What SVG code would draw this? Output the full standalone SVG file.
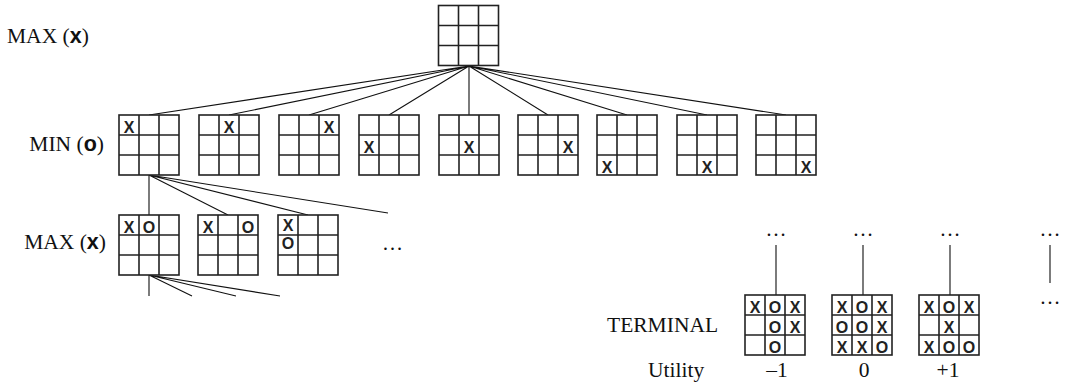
<svg xmlns="http://www.w3.org/2000/svg" xmlns:xlink="http://www.w3.org/1999/xlink" width="1065" height="391" viewBox="0 0 1065 391">
<style>
.lbl{font-family:"Liberation Serif","Times New Roman",serif;font-size:21.5px;fill:#111}
.m{font-family:"Liberation Sans",Arial,sans-serif;font-weight:bold}
.mk{font-family:"Liberation Sans",Arial,sans-serif;font-weight:bold;font-size:16px;fill:#222;text-anchor:middle}
.dots{font-family:"Liberation Serif","Times New Roman",serif;font-size:21px;fill:#111}
.edge{stroke:#111;stroke-width:1.1;fill:none}
.bd{stroke:#222;stroke-width:1.6;fill:#fff}
</style>
<defs>
<g id="board">
<rect class="bd" x="0" y="0" width="60" height="60"/>
<path class="bd" d="M20 0V60M40 0V60M0 20H60M0 40H60"/>
</g>
</defs>
<rect width="1065" height="391" fill="#fff"/>
<g id="connectors">
<path class="edge" d="M469 66L149 115M469 66L229 115M469 66L309 115M469 66L389 115M469 66L469 115M469 66L548 115M469 66L627 115M469 66L707 115M469 66L786 115"/>
<path class="edge" d="M149 175L149 215M149 175L228 215M149 175L308 215M149 175L388 213"/>
<path class="edge" d="M149 275L149 296M149 275L192 296M149 275L236 296M149 275L280 296"/>
<path class="edge" d="M776 245L776 295M863 245L863 295M950 245L950 295M1050 245L1050 283"/>
</g>
<g id="labels">
<text class="lbl" x="7" y="43">MAX (<tspan class="m">x</tspan>)</text>
<text class="lbl" x="104" y="151" text-anchor="end">MIN (<tspan class="m">o</tspan>)</text>
<text class="lbl" x="106" y="249" text-anchor="end">MAX (<tspan class="m">x</tspan>)</text>
<text class="lbl" x="607" y="332">TERMINAL</text>
<text class="lbl" x="648" y="377">Utility</text>
<text class="lbl" x="777" y="377" text-anchor="middle">–1</text>
<text class="lbl" x="864" y="377" text-anchor="middle">0</text>
<text class="lbl" x="948" y="377" text-anchor="middle">+1</text>
</g>
<g id="n0"><use xlink:href="#board" x="438.5" y="5.5"/></g>
<g id="n1"><use xlink:href="#board" x="119" y="115"/><text class="mk" x="129" y="133">X</text></g>
<g id="n2"><use xlink:href="#board" x="199" y="115"/><text class="mk" x="229" y="133">X</text></g>
<g id="n3"><use xlink:href="#board" x="279" y="115"/><text class="mk" x="329" y="133">X</text></g>
<g id="n4"><use xlink:href="#board" x="359" y="115"/><text class="mk" x="369" y="153">X</text></g>
<g id="n5"><use xlink:href="#board" x="439" y="115"/><text class="mk" x="469" y="153">X</text></g>
<g id="n6"><use xlink:href="#board" x="518" y="115"/><text class="mk" x="568" y="153">X</text></g>
<g id="n7"><use xlink:href="#board" x="597" y="115"/><text class="mk" x="607" y="173">X</text></g>
<g id="n8"><use xlink:href="#board" x="677" y="115"/><text class="mk" x="707" y="173">X</text></g>
<g id="n9"><use xlink:href="#board" x="756" y="115"/><text class="mk" x="806" y="173">X</text></g>
<g id="n10"><use xlink:href="#board" x="119" y="215"/><text class="mk" x="129" y="233">X</text><text class="mk" x="149" y="233">O</text></g>
<g id="n11"><use xlink:href="#board" x="198" y="215"/><text class="mk" x="208" y="233">X</text><text class="mk" x="248" y="233">O</text></g>
<g id="n12"><use xlink:href="#board" x="278" y="215"/><text class="mk" x="288" y="231">X</text><text class="mk" x="288" y="249">O</text></g>
<g id="more1"><text class="dots" x="382" y="250">…</text></g>
<g id="dots-top"><text class="dots" x="776" y="236" text-anchor="middle">…</text><text class="dots" x="863" y="236" text-anchor="middle">…</text><text class="dots" x="950" y="236" text-anchor="middle">…</text><text class="dots" x="1050" y="236" text-anchor="middle">…</text><text class="dots" x="1050" y="304" text-anchor="middle">…</text></g>
<g id="t1"><use xlink:href="#board" x="745" y="295"/>
<text class="mk" x="755" y="313">X</text><text class="mk" x="775" y="313">O</text><text class="mk" x="795" y="313">X</text>
<text class="mk" x="775" y="333">O</text><text class="mk" x="795" y="333">X</text>
<text class="mk" x="775" y="353">O</text></g>
<g id="t2"><use xlink:href="#board" x="832" y="295"/>
<text class="mk" x="842" y="313">X</text><text class="mk" x="862" y="313">O</text><text class="mk" x="882" y="313">X</text>
<text class="mk" x="842" y="333">O</text><text class="mk" x="862" y="333">O</text><text class="mk" x="882" y="333">X</text>
<text class="mk" x="842" y="353">X</text><text class="mk" x="862" y="353">X</text><text class="mk" x="882" y="353">O</text></g>
<g id="t3"><use xlink:href="#board" x="919" y="295"/>
<text class="mk" x="929" y="313">X</text><text class="mk" x="949" y="313">O</text><text class="mk" x="969" y="313">X</text>
<text class="mk" x="949" y="333">X</text>
<text class="mk" x="929" y="353">X</text><text class="mk" x="949" y="353">O</text><text class="mk" x="969" y="353">O</text></g>
</svg>
